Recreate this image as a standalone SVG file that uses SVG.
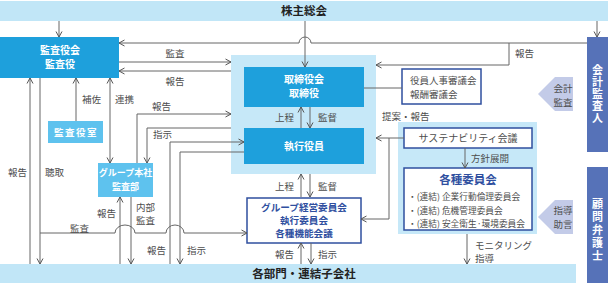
<svg xmlns="http://www.w3.org/2000/svg" width="608" height="308" viewBox="0 0 608 308">
<defs>
<style>
text{font-family:"Noto Sans CJK JP","Noto Sans",sans-serif;}
.band{fill:#c1e6f7;}
.outer{fill:#c6e8f8;}
.blue{fill:#1ea0dc;}
.lblue{fill:#5ec2ee;}
.wbox{fill:#ffffff;stroke:#2f4f9f;stroke-width:1.5;}
.pbox{fill:#5672b8;}
.parrow{fill:#c3cbe8;}
.nt{font-size:10px;font-weight:bold;fill:#ffffff;text-anchor:middle;}
.bt{font-size:11.5px;font-weight:bold;fill:#222;text-anchor:middle;}
.dt{font-size:9.6px;font-weight:bold;fill:#2f4f9f;text-anchor:middle;}
.lb{font-size:9.5px;fill:#4d4d4d;}
.it{font-size:8.7px;fill:#4d4d4d;}
.mid{text-anchor:middle;}
.end{text-anchor:end;}
.vt{font-size:11px;font-weight:bold;fill:#ffffff;writing-mode:vertical-rl;text-anchor:middle;}
.cn path{fill:none;stroke:#666;stroke-width:1;}
</style>
<marker id="ah" viewBox="0 0 8 8" refX="7" refY="4" markerWidth="8" markerHeight="8" markerUnits="userSpaceOnUse" orient="auto-start-reverse">
<path d="M1.5,1 L7,4 L1.5,7" fill="none" stroke="#555" stroke-width="1"/>
</marker>
</defs>

<g id="shareholders">
<rect class="band" x="0" y="1" width="608" height="20"/>
<text class="bt" x="304" y="15">株主総会</text>
</g>

<g id="bottom-band">
<rect class="band" x="0" y="264" width="576" height="19"/>
<text class="bt" x="304" y="278">各部門・連結子会社</text>
</g>

<g id="kansayakukai">
<rect class="blue" x="0" y="37" width="119" height="41"/>
<text class="nt" x="60" y="54">監査役会</text>
<text class="nt" x="60" y="68">監査役</text>
</g>

<g id="kansayakushitsu">
<rect class="lblue" x="48" y="121" width="55" height="22"/>
<text class="nt" x="76" y="135.5" style="font-size:9.5px;letter-spacing:1.5px">監査役室</text>
</g>

<g id="group-audit">
<rect class="lblue" x="98" y="163" width="55" height="34"/>
<text class="nt" x="125.5" y="176" style="font-size:9px">グループ本社</text>
<text class="nt" x="125.5" y="190" style="font-size:9px">監査部</text>
</g>

<g id="board-area">
<rect class="outer" x="231" y="55" width="145" height="119"/>
<g id="board">
<rect class="blue" x="244" y="67" width="120" height="40"/>
<text class="nt" x="304" y="83">取締役会</text>
<text class="nt" x="304" y="97">取締役</text>
</g>
<g id="executive">
<rect class="blue" x="244" y="128" width="120" height="36"/>
<text class="nt" x="304" y="149.5">執行役員</text>
</g>
</g>

<g id="nomination">
<rect class="wbox" x="402" y="69" width="79" height="35"/>
<text class="lb" x="410" y="83.5">役員人事審議会</text>
<text class="lb" x="410" y="97.5">報酬審議会</text>
</g>

<g id="group-committee">
<rect class="wbox" x="247" y="198" width="114" height="45"/>
<text class="dt" x="304" y="210.5">グループ経営委員会</text>
<text class="dt" x="304" y="223.5">執行委員会</text>
<text class="dt" x="304" y="236.5">各種機能会議</text>
</g>

<g id="sustainability-area">
<rect class="outer" x="398" y="122" width="139" height="112"/>
<g id="sustainability">
<rect class="wbox" x="404" y="128" width="128" height="20"/>
<text class="lb mid" x="468" y="141.5" style="font-size:10px">サステナビリティ会議</text>
</g>
<g id="committees">
<rect class="wbox" x="404" y="168" width="128" height="62"/>
<text class="dt" x="468" y="184" style="font-size:11.5px">各種委員会</text>
<text class="it" x="408" y="199.5">・(連結) 企業行動倫理委員会</text>
<text class="it" x="408" y="213.5">・(連結) 危機管理委員会</text>
<text class="it" x="408" y="227">・(連結) 安全衛生·環境委員会</text>
</g>
</g>

<g id="accounting-auditor">
<rect class="pbox" x="587" y="37" width="21" height="115"/>
<text class="vt" x="597.5" y="94" style="letter-spacing:1px">会計監査人</text>
<polygon class="parrow" points="538,94 555,77 573,77 573,111 555,111"/>
<text class="lb mid" x="563" y="91.5">会計</text>
<text class="lb mid" x="563" y="105.5">監査</text>
</g>

<g id="lawyer">
<rect class="pbox" x="587" y="167" width="21" height="116"/>
<text class="vt" x="597.5" y="231" style="letter-spacing:2px">顧問弁護士</text>
<polygon class="parrow" points="538,217 555,200 573,200 573,234 555,234"/>
<text class="lb mid" x="563" y="213.5">指導</text>
<text class="lb mid" x="563" y="227.5">助言</text>
</g>

<g id="connectors" class="cn">
<path d="M59,21 V37" marker-end="url(#ah)"/>
<path d="M305,21 V67" marker-end="url(#ah)"/>
<path d="M597,21 V37" marker-end="url(#ah)"/>
<path d="M587,43 H311 A6,6 0 0 0 299,43 H119" marker-end="url(#ah)"/>
<path d="M509,43 V65 H376" marker-end="url(#ah)"/>
<path d="M119,62 H231" marker-end="url(#ah)"/>
<path d="M231,71 H119" marker-end="url(#ah)"/>
<path d="M137,163 V114 H231" marker-end="url(#ah)"/>
<path d="M231,128 H147 V163" marker-end="url(#ah)"/>
<path d="M170,264 V142 H244" marker-end="url(#ah)"/>
<path d="M244,152 H180 V264" marker-end="url(#ah)"/>
<path d="M301,128 V107" marker-end="url(#ah)"/>
<path d="M310,107 V128" marker-end="url(#ah)"/>
<path d="M301,197 V174" marker-end="url(#ah)"/>
<path d="M310,174 V197" marker-end="url(#ah)"/>
<path d="M301,264 V243" marker-end="url(#ah)"/>
<path d="M311,243 V264" marker-end="url(#ah)"/>
<path d="M364,88 H402"/>
<path d="M404,138 H376" marker-end="url(#ah)"/>
<path d="M389,138 V219 H361" marker-end="url(#ah)"/>
<path d="M465,148 V168" marker-end="url(#ah)"/>
<path d="M467,234 V264" marker-end="url(#ah)"/>
<path d="M30,264 V78" marker-end="url(#ah)"/>
<path d="M40,78 V264" marker-end="url(#ah)"/>
<path d="M40,233 H115 A10,8 0 0 1 135,233 H166 A9,8 0 0 1 184,233 H247" marker-end="url(#ah)"/>
<path d="M76,121 V78" marker-end="url(#ah)"/>
<path d="M110,78 V163" marker-start="url(#ah)" marker-end="url(#ah)"/>
<path d="M120,264 V197" marker-end="url(#ah)"/>
<path d="M131,197 V264" marker-end="url(#ah)"/>
</g>

<g id="labels">
<text class="lb mid" x="175" y="56.5">監査</text>
<text class="lb mid" x="175" y="84.5">報告</text>
<text class="lb" x="515" y="56.5">報告</text>
<text class="lb" x="82" y="102.5">補佐</text>
<text class="lb" x="115" y="102.5">連携</text>
<text class="lb" x="152" y="109.5">報告</text>
<text class="lb" x="153" y="137.5">指示</text>
<text class="lb" x="8" y="175.5">報告</text>
<text class="lb" x="45" y="175.5">聴取</text>
<text class="lb end" x="294" y="120.5">上程</text>
<text class="lb" x="318" y="120.5">監督</text>
<text class="lb end" x="294" y="189.5">上程</text>
<text class="lb" x="318" y="189.5">監督</text>
<text class="lb" x="382" y="119.5">提案・報告</text>
<text class="lb" x="471" y="161.5">方針展開</text>
<text class="lb" x="97" y="216.5">報告</text>
<text class="lb" x="136" y="210.5">内部</text>
<text class="lb" x="136" y="223.5">監査</text>
<text class="lb" x="70" y="231.5">監査</text>
<text class="lb" x="147" y="253.5">報告</text>
<text class="lb" x="187" y="253.5">指示</text>
<text class="lb end" x="294" y="257.5">報告</text>
<text class="lb" x="318" y="257.5">指示</text>
<text class="lb" x="475" y="248.5">モニタリング</text>
<text class="lb" x="475" y="261.5">指導</text>
</g>
</svg>
